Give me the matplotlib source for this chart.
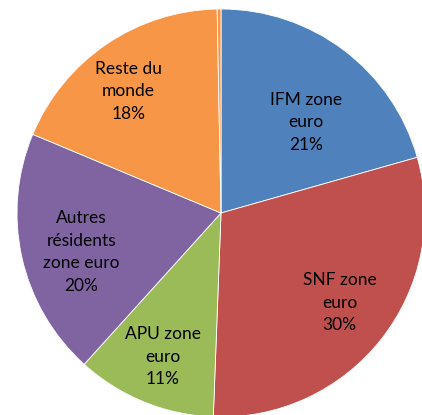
"""
Répartition par détenteur (camembert)
Sortie: out.png
"""

import numpy as np
import matplotlib.pyplot as plt

# ── Données ───────────────────────────────────────────────────────────────────
LABELS = ["IFM zone\neuro", "SNF zone\neuro", "APU zone\neuro",
          "Autres\nrésidents\nzone euro", "Reste du\nmonde", ""]
PARTS = [20.6, 30.0, 11.1, 19.6, 18.4, 0.3]   # dernier: part infime, sans étiquette
COULEURS = ["#4F81BD", "#C0504D", "#9BBB59", "#8064A2", "#F79646", "#F79646"]

# placement des étiquettes (fraction du rayon, décalage angulaire en degrés)
LABEL_R = [0.61, 0.73, 0.76, 0.71, 0.75, 0]
LABEL_DECAL = [-6, 1, 0, 3, 3, 0]

plt.rcParams.update({
    "font.family": ["Lato", "DejaVu Sans"],
    "figure.facecolor": "white",
})

W, H = 422, 415
CX, CY, R = 221, 213, 204

fig = plt.figure(figsize=(W / 100, H / 100), dpi=100)
ax = fig.add_axes([(CX - R) / W, (H - CY - R) / H, 2 * R / W, 2 * R / H])

wedges, _ = ax.pie(
    PARTS,
    colors=COULEURS,
    startangle=90,
    counterclock=False,
    radius=1,
    wedgeprops={"edgecolor": "white", "linewidth": 0.6},
)
ax.set_xlim(-1, 1)
ax.set_ylim(-1, 1)
ax.set_aspect("auto")
ax.set_axis_off()
for w in wedges:
    w.set_clip_on(False)

for w, lab, p, r, d in zip(wedges, LABELS, PARTS, LABEL_R, LABEL_DECAL):
    if not lab:
        continue
    ang = np.deg2rad((w.theta1 + w.theta2) / 2 + d)
    ax.text(r * np.cos(ang), r * np.sin(ang), f"{lab}\n{round(p)}%",
            ha="center", va="center", fontsize=12.5, color="black",
            linespacing=1.5)

fig.savefig("out.png", dpi=100)
